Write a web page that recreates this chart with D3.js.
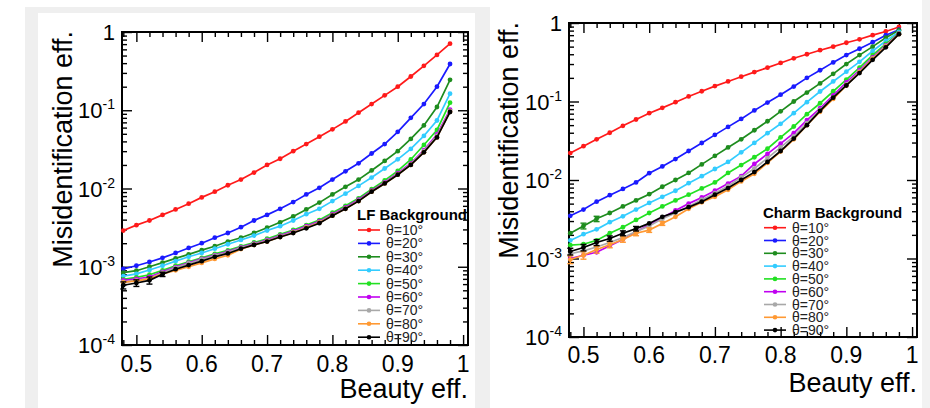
<!DOCTYPE html>
<html>
<head>
<meta charset="utf-8">
<script src="https://cdn.jsdelivr.net/npm/d3@7"></script>
<style>
  body { margin: 0; background: #fff; }
  svg { display: block; font-family: "Liberation Sans", Arial, Helvetica, sans-serif; }
</style>
</head>
<body>
<div id="chart"></div>
<script>
var width = 930;
var height = 408;

// beauty efficiency working points
var beautyEff = [0.48, 0.50, 0.52, 0.54, 0.56, 0.58, 0.60, 0.62, 0.64, 0.66, 0.68, 0.70, 0.72,
                 0.74, 0.76, 0.78, 0.80, 0.82, 0.84, 0.86, 0.88, 0.90, 0.92, 0.94, 0.96, 0.98];

var angleLabels = ["θ=10°", "θ=20°", "θ=30°", "θ=40°", "θ=50°", "θ=60°", "θ=70°", "θ=80°", "θ=90°"];

var xTickLabels = ["0.5", "0.6", "0.7", "0.8", "0.9", "1"];
var xTickValues = [0.5, 0.6, 0.7, 0.8, 0.9, 1.0];
var yTickValues = [1e-4, 1e-3, 1e-2, 1e-1, 1];
var yTickExps = ["-4", "-3", "-2", "-1", ""];

// LF background mistag
var lf10 = [2.9e-3, 3.4e-3, 3.9e-3, 4.6e-3, 5.4e-3, 6.4e-3, 7.7e-3, 9.1e-3, 1.1e-2, 1.3e-2, 1.6e-2, 2.0e-2, 2.4e-2,
            3.0e-2, 3.7e-2, 4.6e-2, 5.7e-2, 7.2e-2, 9.3e-2, 0.12, 0.155, 0.20, 0.27, 0.37, 0.51, 0.71];
var lf20 = [9.4e-4, 1.03e-3, 1.15e-3, 1.3e-3, 1.5e-3, 1.74e-3, 2.0e-3, 2.35e-3, 2.7e-3, 3.2e-3, 3.9e-3, 4.6e-3, 5.5e-3,
            6.7e-3, 8.4e-3, 1.02e-2, 1.3e-2, 1.66e-2, 2.1e-2, 2.8e-2, 3.7e-2, 5.3e-2, 8.0e-2, 0.12, 0.20, 0.39];
var lf30 = [8.4e-4, 8.9e-4, 1.0e-3, 1.13e-3, 1.28e-3, 1.44e-3, 1.63e-3, 1.83e-3, 2.1e-3, 2.35e-3, 2.7e-3, 3.15e-3, 3.7e-3,
            4.4e-3, 5.4e-3, 6.6e-3, 8.4e-3, 1.05e-2, 1.3e-2, 1.7e-2, 2.25e-2, 3.0e-2, 4.3e-2, 6.4e-2, 0.11, 0.245];
var lf40 = [7.6e-4, 8.1e-4, 9.1e-4, 1.03e-3, 1.18e-3, 1.34e-3, 1.5e-3, 1.7e-3, 1.94e-3, 2.2e-3, 2.5e-3, 2.9e-3, 3.3e-3,
            3.9e-3, 4.7e-3, 5.5e-3, 6.9e-3, 8.6e-3, 1.08e-2, 1.38e-2, 1.8e-2, 2.36e-2, 3.2e-2, 4.7e-2, 7.4e-2, 0.163];
var lf50 = [6.9e-4, 7.3e-4, 7.9e-4, 9.0e-4, 1.03e-3, 1.16e-3, 1.3e-3, 1.46e-3, 1.62e-3, 1.82e-3, 2.04e-3, 2.28e-3, 2.6e-3,
            2.95e-3, 3.4e-3, 3.95e-3, 4.9e-3, 6.0e-3, 7.5e-3, 9.8e-3, 1.27e-2, 1.68e-2, 2.35e-2, 3.6e-2, 5.6e-2, 0.125];
var lf60 = [6.7e-4, 7.0e-4, 7.4e-4, 8.6e-4, 9.9e-4, 1.12e-3, 1.26e-3, 1.41e-3, 1.56e-3, 1.77e-3, 1.98e-3, 2.2e-3, 2.5e-3,
            2.85e-3, 3.3e-3, 3.8e-3, 4.7e-3, 5.75e-3, 7.2e-3, 9.4e-3, 1.2e-2, 1.57e-2, 2.1e-2, 3.1e-2, 4.9e-2, 0.102];
var lf70 = [6.4e-4, 6.7e-4, 7.1e-4, 8.4e-4, 9.7e-4, 1.1e-3, 1.24e-3, 1.39e-3, 1.53e-3, 1.74e-3, 1.94e-3, 2.15e-3, 2.45e-3,
            2.78e-3, 3.2e-3, 3.7e-3, 4.6e-3, 5.6e-3, 7.0e-3, 9.2e-3, 1.18e-2, 1.53e-2, 2.05e-2, 3.0e-2, 4.7e-2, 0.098];
var lf80 = [6.3e-4, 6.6e-4, 7.0e-4, 8.1e-4, 9.0e-4, 1.0e-3, 1.12e-3, 1.26e-3, 1.4e-3, 1.68e-3, 1.9e-3, 2.1e-3, 2.4e-3,
            2.72e-3, 3.15e-3, 3.65e-3, 4.5e-3, 5.5e-3, 6.9e-3, 9.1e-3, 1.16e-2, 1.5e-2, 2.0e-2, 2.9e-2, 4.5e-2, 0.096];
var lf90 = [5.8e-4, 6.2e-4, 6.7e-4, 8.0e-4, 9.3e-4, 1.05e-3, 1.18e-3, 1.34e-3, 1.48e-3, 1.7e-3, 1.9e-3, 2.1e-3, 2.4e-3,
            2.7e-3, 3.1e-3, 3.6e-3, 4.5e-3, 5.5e-3, 6.9e-3, 9.1e-3, 1.16e-2, 1.5e-2, 2.0e-2, 2.9e-2, 4.5e-2, 0.095];
// statistical errors that show at the low-efficiency end (LF, 90 deg)
var lf90Err = [6e-5, 6e-5, 7e-5, 5e-5, 0, 0, 0, 0, 0, 0, 0, 0, 0,
               0, 0, 0, 0, 0, 0, 0, 0, 0, 0, 0, 0, 0];

// charm background mistag
var ch10 = [0.022, 0.027, 0.033, 0.040, 0.049, 0.059, 0.071, 0.083, 0.098, 0.116, 0.135, 0.157, 0.18,
            0.207, 0.237, 0.27, 0.31, 0.355, 0.40, 0.45, 0.50, 0.56, 0.62, 0.70, 0.78, 0.89];
var ch20 = [3.5e-3, 4.2e-3, 5.3e-3, 6.4e-3, 7.7e-3, 9.3e-3, 1.22e-2, 1.49e-2, 1.85e-2, 2.34e-2, 2.96e-2, 3.76e-2, 4.75e-2,
            6.0e-2, 7.7e-2, 9.7e-2, 0.122, 0.155, 0.20, 0.25, 0.315, 0.39, 0.47, 0.57, 0.70, 0.82];
var ch30 = [2.1e-3, 2.6e-3, 3.2e-3, 3.8e-3, 4.6e-3, 5.5e-3, 6.6e-3, 8.2e-3, 1.0e-2, 1.23e-2, 1.58e-2, 2.03e-2, 2.6e-2,
            3.3e-2, 4.3e-2, 5.6e-2, 7.5e-2, 0.10, 0.13, 0.17, 0.225, 0.30, 0.39, 0.50, 0.65, 0.81];
var ch40 = [1.7e-3, 2.04e-3, 2.35e-3, 2.9e-3, 3.45e-3, 4.2e-3, 5.1e-3, 6.1e-3, 7.3e-3, 9.1e-3, 1.12e-2, 1.38e-2, 1.7e-2,
            2.25e-2, 2.97e-2, 3.95e-2, 5.2e-2, 7.1e-2, 9.8e-2, 0.134, 0.18, 0.24, 0.32, 0.44, 0.59, 0.77];
var ch50 = [1.48e-3, 1.52e-3, 1.7e-3, 2.1e-3, 2.5e-3, 3.1e-3, 3.8e-3, 4.6e-3, 5.5e-3, 6.5e-3, 7.8e-3, 9.3e-3, 1.23e-2,
            1.55e-2, 1.95e-2, 2.5e-2, 3.5e-2, 4.8e-2, 6.9e-2, 9.5e-2, 0.135, 0.19, 0.27, 0.39, 0.54, 0.74];
var ch60 = [1.0e-3, 1.1e-3, 1.2e-3, 1.45e-3, 1.75e-3, 2.2e-3, 2.7e-3, 3.3e-3, 4.1e-3, 5.0e-3, 6.0e-3, 7.3e-3, 9.0e-3,
            1.12e-2, 1.6e-2, 2.15e-2, 2.9e-2, 3.95e-2, 5.8e-2, 8.2e-2, 0.12, 0.175, 0.25, 0.365, 0.52, 0.73];
var ch70 = [1.15e-3, 1.25e-3, 1.4e-3, 1.6e-3, 1.85e-3, 2.2e-3, 2.6e-3, 3.2e-3, 3.8e-3, 4.6e-3, 5.6e-3, 6.8e-3, 8.4e-3,
            1.08e-2, 1.4e-2, 1.9e-2, 2.6e-2, 3.6e-2, 5.3e-2, 7.8e-2, 0.113, 0.165, 0.24, 0.355, 0.51, 0.725];
var ch80 = [9.7e-4, 1.1e-3, 1.3e-3, 1.5e-3, 1.75e-3, 2.1e-3, 2.3e-3, 2.8e-3, 3.4e-3, 4.3e-3, 5.2e-3, 6.1e-3, 7.5e-3,
            9.6e-3, 1.2e-2, 1.65e-2, 2.3e-2, 3.3e-2, 5.0e-2, 7.4e-2, 0.108, 0.16, 0.235, 0.35, 0.50, 0.72];
var ch90 = [1.23e-3, 1.38e-3, 1.6e-3, 1.8e-3, 2.1e-3, 2.4e-3, 2.8e-3, 3.4e-3, 3.9e-3, 4.5e-3, 5.3e-3, 6.5e-3, 7.9e-3,
            1.0e-2, 1.26e-2, 1.7e-2, 2.34e-2, 3.37e-2, 5.0e-2, 7.6e-2, 0.112, 0.16, 0.23, 0.34, 0.49, 0.72];
var ch80Err = [1.1e-4, 1.2e-4, 1.3e-4, 1.3e-4, 1.4e-4, 1.5e-4, 1.5e-4, 1.6e-4, 0, 0, 0, 0, 0,
               0, 0, 0, 0, 0, 0, 0, 0, 0, 0, 0, 0, 0];
var ch90Err = [1.2e-4, 1.3e-4, 1.4e-4, 1.4e-4, 1.5e-4, 1.6e-4, 0, 0, 0, 0, 0, 0, 0,
               0, 0, 0, 0, 0, 0, 0, 0, 0, 0, 0, 0, 0];
var ch30Err = [0, 2.2e-4, 2.5e-4, 0, 0, 0, 0, 0, 0, 0, 0, 0, 0,
               0, 0, 0, 0, 0, 0, 0, 0, 0, 0, 0, 0, 0];

var colors = ["#ff1a1a", "#1a1aff", "#1e8c1e", "#33ccff", "#22e022", "#c000f0", "#a8a8a8", "#ff9933", "#000000"];

var panels = [
    { title: "LF Background", series: [lf10, lf20, lf30, lf40, lf50, lf60, lf70, lf80, lf90],
      errors: { 8: lf90Err },
      x0: 122, y0: 32, w: 346, h: 313,
      yTitleX: 72, yTitleY: 31, xTitleY: 398, xLabelPad: 10,
      legX: 357, legTitleY: 220, legY: 230, legStep: 13.4 },
    { title: "Charm Background", series: [ch10, ch20, ch30, ch40, ch50, ch60, ch70, ch80, ch90],
      errors: { 2: ch30Err, 7: ch80Err, 8: ch90Err },
      x0: 569, y0: 23, w: 348, h: 314,
      yTitleX: 518, yTitleY: 22, xTitleY: 392, xLabelPad: 9,
      legX: 763, legTitleY: 218, legY: 227.7, legStep: 12.8 }
];

var svg = d3.select("#chart")
            .append("svg")
            .attr("width", width)
            .attr("height", height);

// the grey frame round the left picture, and a strip on the far right
svg.append("rect").attr("x", 25).attr("y", 7).attr("width", 465).attr("height", 401).attr("fill", "#efefef");
svg.append("rect").attr("x", 38).attr("y", 13).attr("width", 437).attr("height", 395).attr("fill", "#fff");
svg.append("rect").attr("x", 922).attr("y", 0).attr("width", 8).attr("height", 408).attr("fill", "#f2f2f2");

var xMinor = d3.range(0.48, 1.0001, 0.02).filter(function(v) {
    return Math.abs(v * 10 - Math.round(v * 10)) > 1e-6;
});
var yMinor = [];
yTickValues.slice(0, -1).forEach(function(d) {
    for (var k = 2; k <= 9; k++) yMinor.push(d * k);
});

panels.forEach(function(p) {
    var x = d3.scaleLinear().domain([0.478, 1.0075]).range([p.x0, p.x0 + p.w]);
    var y = d3.scaleLog().domain([1e-4, 1]).range([p.y0 + p.h, p.y0]);

    var g = svg.append("g");

    // ticks, all pointing into the frame
    var axes = [
        { a: d3.axisBottom(x), t: "translate(0," + (p.y0 + p.h) + ")" },
        { a: d3.axisTop(x), t: "translate(0," + p.y0 + ")" },
        { a: d3.axisLeft(y), t: "translate(" + p.x0 + ",0)" },
        { a: d3.axisRight(y), t: "translate(" + (p.x0 + p.w) + ",0)" }
    ];
    axes.forEach(function(ax, i) {
        var isX = i < 2;
        g.append("g").attr("transform", ax.t)
            .call(ax.a.tickValues(isX ? xMinor : yMinor).tickSize(-5).tickSizeOuter(0).tickFormat(""))
            .call(function(s) { s.select(".domain").remove(); s.selectAll("line").attr("stroke-width", 1.4); });
        g.append("g").attr("transform", ax.t)
            .call(ax.a.tickValues(isX ? xTickValues : yTickValues).tickSize(-10).tickSizeOuter(0).tickFormat(""))
            .call(function(s) { s.select(".domain").remove(); s.selectAll("line").attr("stroke-width", 1.4); });
    });

    g.append("rect")
        .attr("x", p.x0).attr("y", p.y0)
        .attr("width", p.w).attr("height", p.h)
        .attr("fill", "none").attr("stroke", "#000").attr("stroke-width", 2);

    // x tick labels
    g.selectAll(".xl").data(xTickValues).enter().append("text")
        .attr("x", function(d) { return x(d); })
        .attr("y", p.y0 + p.h + p.xLabelPad + 17)
        .attr("text-anchor", "middle")
        .attr("font-size", 23)
        .text(function(d, i) { return xTickLabels[i]; });

    // y tick labels, 10 with a raised exponent
    yTickValues.forEach(function(d, i) {
        var t = g.append("text")
            .attr("x", p.x0 - 7)
            .attr("y", y(d) + 8)
            .attr("text-anchor", "end")
            .attr("font-size", 22);
        if (yTickExps[i] === "") {
            t.text("1");
        } else {
            t.append("tspan").text("10");
            t.append("tspan").attr("font-size", 14).attr("dy", -9).text(yTickExps[i]);
        }
    });

    // axis titles
    g.append("text")
        .attr("transform", "translate(" + p.yTitleX + "," + p.yTitleY + ") rotate(-90)")
        .attr("text-anchor", "end")
        .attr("font-size", 27)
        .text("Misidentification eff.");
    g.append("text")
        .attr("x", p.x0 + p.w)
        .attr("y", p.xTitleY)
        .attr("text-anchor", "end")
        .attr("font-size", 27)
        .text("Beauty eff.");

    // curves
    var line = d3.line()
        .x(function(d, i) { return x(beautyEff[i]); })
        .y(function(d) { return y(d); });

    p.series.forEach(function(vals, s) {
        g.append("path")
            .datum(vals)
            .attr("fill", "none")
            .attr("stroke", colors[s])
            .attr("stroke-width", 1.7)
            .attr("d", line);
        var err = p.errors[s];
        if (err) {
            vals.forEach(function(v, i) {
                if (!err[i]) return;
                var cx = x(beautyEff[i]);
                var lo = y(v - err[i]), hi = y(v + err[i]);
                g.append("line").attr("x1", cx).attr("x2", cx).attr("y1", lo).attr("y2", hi)
                    .attr("stroke", colors[s]).attr("stroke-width", 1.4);
                [lo, hi].forEach(function(yy) {
                    g.append("line").attr("x1", cx - 3).attr("x2", cx + 3).attr("y1", yy).attr("y2", yy)
                        .attr("stroke", colors[s]).attr("stroke-width", 1.4);
                });
            });
        }
        g.selectAll(".pt" + s)
            .data(vals)
            .enter()
            .append("circle")
            .attr("cx", function(d, i) { return x(beautyEff[i]); })
            .attr("cy", function(d) { return y(d); })
            .attr("r", 2.4)
            .attr("fill", colors[s]);
    });

    // legend
    g.append("text")
        .attr("x", p.legX)
        .attr("y", p.legTitleY)
        .attr("font-size", 15)
        .attr("font-weight", "bold")
        .text(p.title);
    angleLabels.forEach(function(lab, i) {
        var ly = p.legY + i * p.legStep;
        g.append("line")
            .attr("x1", p.legX + 1).attr("x2", p.legX + 23)
            .attr("y1", ly).attr("y2", ly)
            .attr("stroke", colors[i]).attr("stroke-width", 1.6);
        g.append("circle")
            .attr("cx", p.legX + 12).attr("cy", ly).attr("r", 2.3)
            .attr("fill", colors[i]);
        g.append("text")
            .attr("x", p.legX + 29)
            .attr("y", ly + 5)
            .attr("font-size", 14)
            .attr("fill", "#222")
            .text(lab);
    });
});
</script>
</body>
</html>
